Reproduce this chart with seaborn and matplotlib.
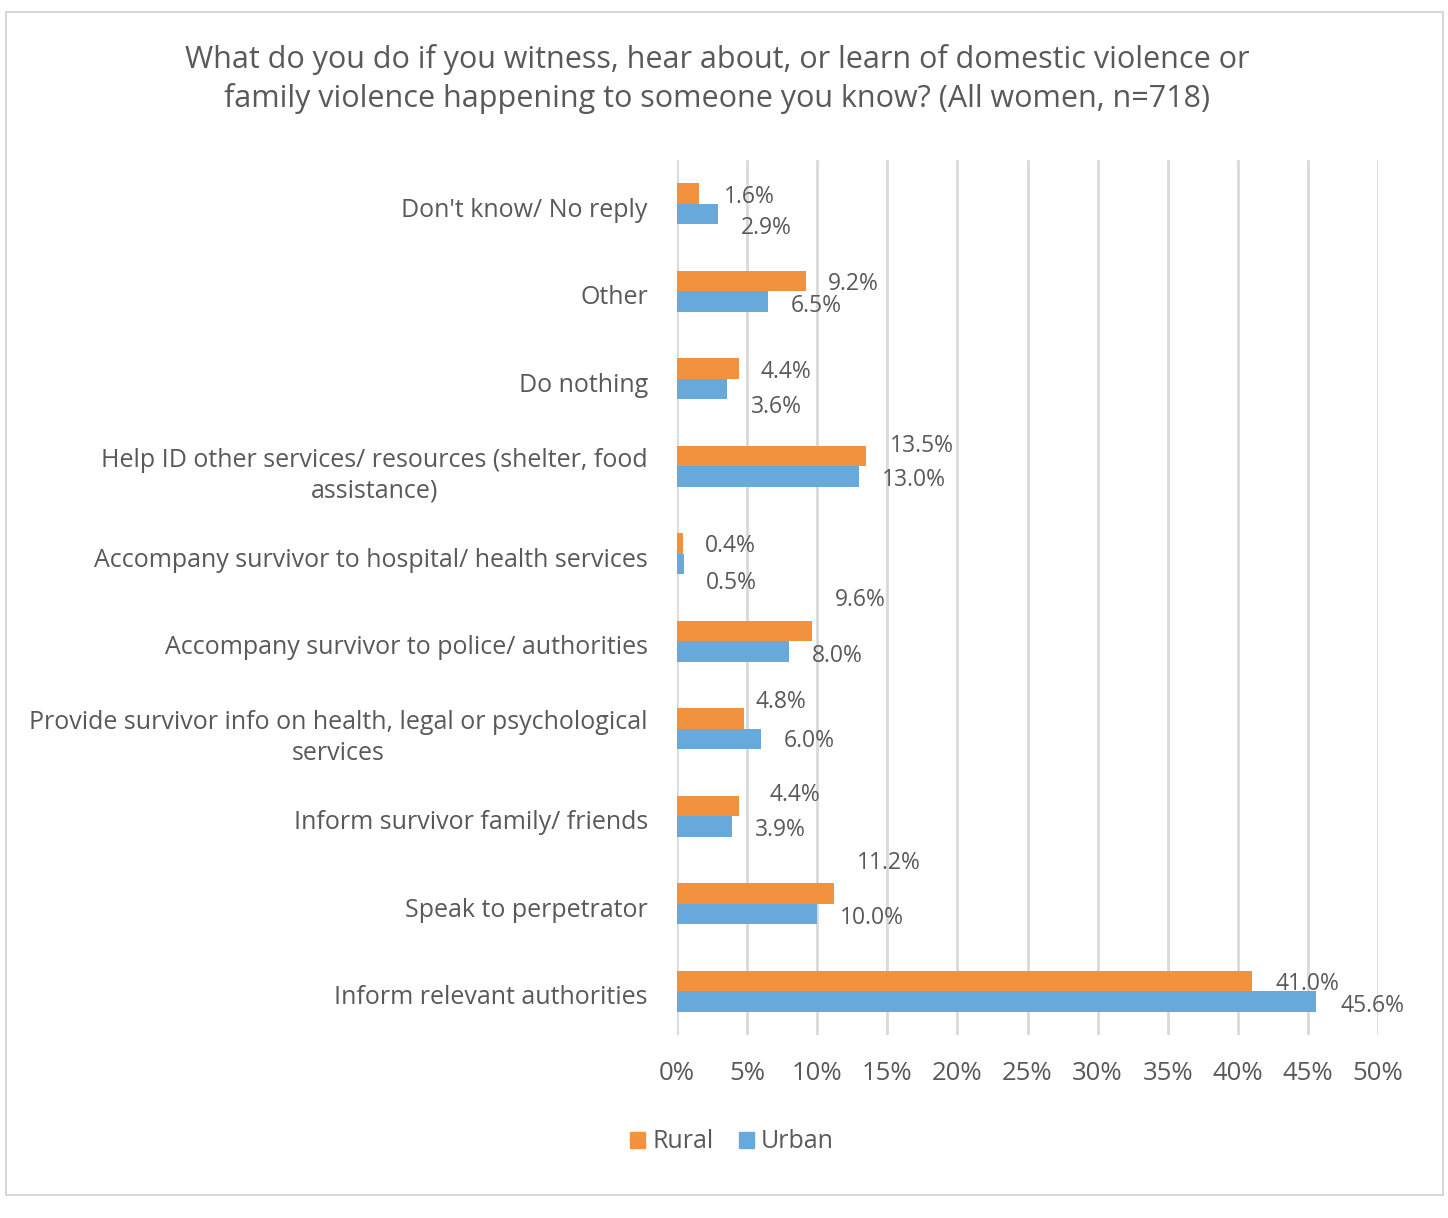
import matplotlib
matplotlib.use("Agg")
import matplotlib.pyplot as plt
import matplotlib.patches as mpatches
import matplotlib.transforms as mtransforms
import seaborn as sns
import pandas as pd

categories = [
    "Don't know/ No reply",
    "Other",
    "Do nothing",
    "Help ID other services/ resources (shelter, food\nassistance)",
    "Accompany survivor to hospital/ health services",
    "Accompany survivor to police/ authorities",
    "Provide survivor info on health, legal or psychological\nservices",
    "Inform survivor family/ friends",
    "Speak to perpetrator",
    "Inform relevant authorities",
]
rural = [1.6, 9.2, 4.4, 13.5, 0.4, 9.6, 4.8, 4.4, 11.2, 41.0]
urban = [2.9, 6.5, 3.6, 13.0, 0.5, 8.0, 6.0, 3.9, 10.0, 45.6]
series = ["Rural", "Urban"]
x_ticks = [0, 5, 10, 15, 20, 25, 30, 35, 40, 45, 50]

# label nudges (pixels) for the value labels, (dx, dy) per bar
rural_nudge = [(24, -4), (22, -3), (22, -4), (24, 10), (22, -3),
               (23, 31), (11, 16), (31, 11), (23, 30), (24, -3)]
urban_nudge = [(23, -14), (23, -4), (23, -18), (23, -3), (22, -19),
               (23, -4), (23, -2), (23, -3), (23, -4), (24, -4)]

df = pd.DataFrame({
    "category": categories * 2,
    "value": rural + urban,
    "area": [series[0]] * len(categories) + [series[1]] * len(categories),
})

TEXT = "#595959"
colors = {"Rural": "#F2923F", "Urban": "#67A9DB"}

sns.set_theme(style="white")
plt.rcParams["font.family"] = ["Open Sans", "DejaVu Sans"]

fig = plt.figure(figsize=(14.48, 12.18), dpi=100)
ax = fig.add_axes([677 / 1448, 1 - 1035 / 1218, 701 / 1448, 875 / 1218])

sns.barplot(data=df, y="category", x="value", hue="area", order=categories,
            hue_order=series, palette=colors, orient="h", width=0.47,
            ax=ax, legend=False, saturation=1, edgecolor="none")

ax.set_xlim(0, 50)
ax.set_ylim(len(categories) - 0.5, -0.5)
ax.set_xticks(x_ticks)
ax.set_xticklabels([f"{t}%" for t in x_ticks], fontsize=18.5, color=TEXT)
ax.tick_params(axis="x", pad=19, length=0)
ax.tick_params(axis="y", pad=21, length=0, labelsize=18, labelcolor=TEXT)
shift_down = mtransforms.ScaledTranslation(0, -3.5 / 100, fig.dpi_scale_trans)
for lab in ax.get_yticklabels():
    lab.set_multialignment("center")
    lab.set_linespacing(1.3)
    lab.set_transform(lab.get_transform() + shift_down)
ax.set_xlabel("")
ax.set_ylabel("")
ax.grid(axis="x", color="#D9D9D9", linewidth=2)
ax.set_axisbelow(True)
for s in ax.spines.values():
    s.set_visible(False)

# value labels
for i, (r, u) in enumerate(zip(rural, urban)):
    for val, off, yy in ((r, rural_nudge[i], i - 0.1175), (u, urban_nudge[i], i + 0.1175)):
        ax.annotate(f"{val:.1f}%", xy=(val, yy), xytext=off,
                    textcoords="offset pixels", ha="left", va="center",
                    fontsize=16.5, color=TEXT)

fig.text(717 / 1448, 1 - 79 / 1218,
         "What do you do if you witness, hear about, or learn of domestic violence or\n"
         "family violence happening to someone you know? (All women, n=718)",
         ha="center", va="center", fontsize=22, color=TEXT,
         linespacing=1.3)

handles = [mpatches.Patch(color=colors[s], label=s) for s in series]
fig.legend(handles=handles, loc="center", bbox_to_anchor=(732 / 1448, 1 - 1142 / 1218),
           ncol=2, frameon=False, fontsize=18, handlelength=0.6, handleheight=0.6,
           handletextpad=0.3, columnspacing=1.0, labelcolor=TEXT)

# chart frame
fig.add_artist(mpatches.Rectangle((6 / 1448, 1 - 1195 / 1218), 1437 / 1448, 1183 / 1218,
                                  transform=fig.transFigure, fill=False,
                                  edgecolor="#D0D0D0", linewidth=1.2))

fig.savefig("out.png", dpi=100, facecolor="white")
